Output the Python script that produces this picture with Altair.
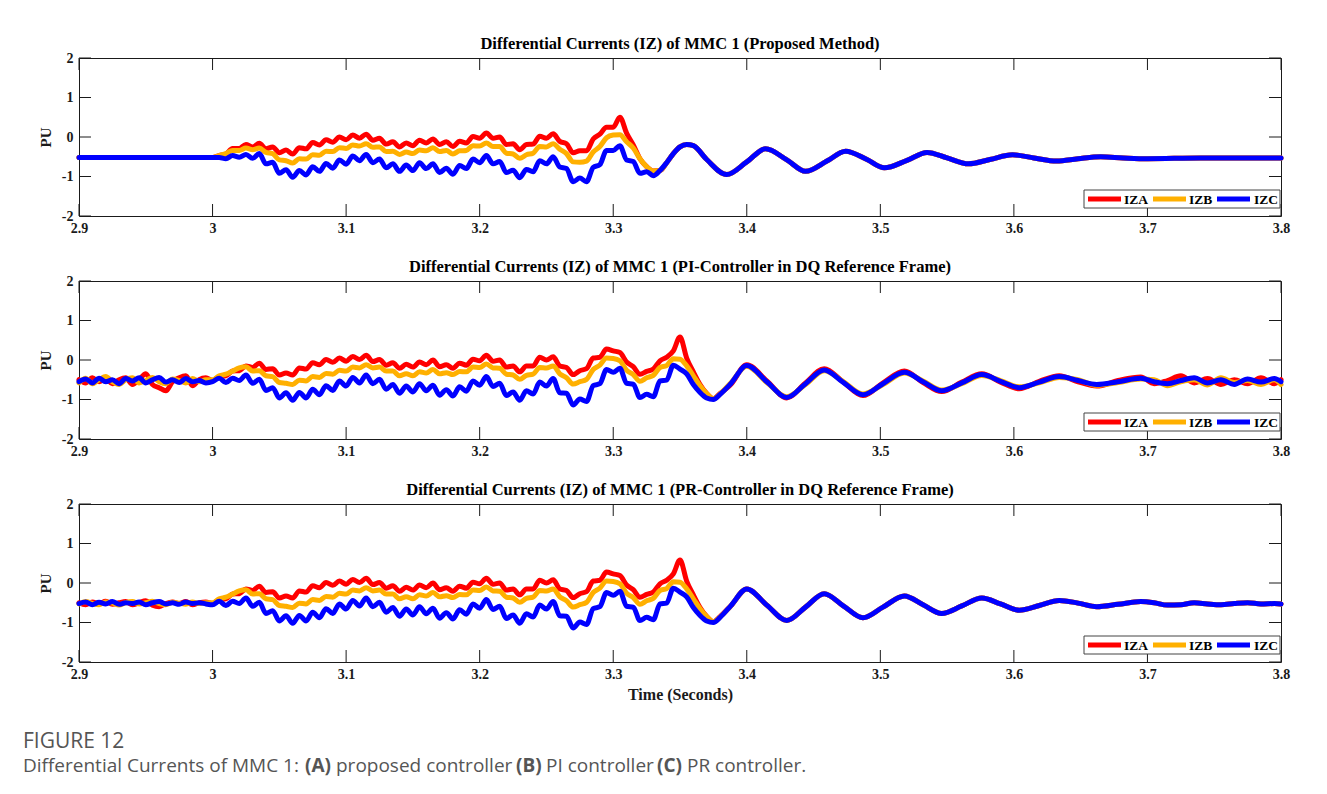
import altair as alt
import pandas as pd

SERIES = ["IZA", "IZB", "IZC"]
COLORS = ["#FF0000", "#FFB000", "#0000FF"]
X_TICKS = [2.9, 3.0, 3.1, 3.2, 3.3, 3.4, 3.5, 3.6, 3.7, 3.8]
Y_TICKS = [-2, -1, 0, 1, 2]
TITLES = [
    "Differential Currents (IZ) of MMC 1 (Proposed Method)",
    "Differential Currents (IZ) of MMC 1 (PI-Controller in DQ Reference Frame)",
    "Differential Currents (IZ) of MMC 1 (PR-Controller in DQ Reference Frame)",
]
X_TITLE = "Time (Seconds)"
Y_TITLE = "PU"

# ---------------- time grids ----------------
T_PRE1 = [2.9, 2.95]
T_PRE = [round(2.9 + 0.005 * k, 3) for k in range(20)]        # 2.900 .. 2.995
T_MAIN1 = [round(3.0 + 0.005 * k, 3) for k in range(73)]      # 3.000 .. 3.360
T_MAIN23 = [round(3.0 + 0.005 * k, 3) for k in range(77)]     # 3.000 .. 3.380
T_TAIL1 = [3.370, 3.385, 3.400, 3.414, 3.430, 3.444, 3.460, 3.474, 3.490, 3.503,
           3.520, 3.535, 3.550, 3.566, 3.582, 3.599, 3.615, 3.632, 3.648, 3.665,
           3.682, 3.700, 3.740, 3.800]
T_TAIL23 = [3.388, 3.400, 3.415, 3.430, 3.444, 3.458, 3.472, 3.487, 3.502, 3.518,
            3.532, 3.546, 3.561, 3.576, 3.590, 3.604, 3.619, 3.634, 3.648, 3.662,
            3.678, 3.695, 3.705, 3.715, 3.725, 3.735, 3.745, 3.755, 3.765, 3.775,
            3.785, 3.795, 3.800]

# ---------------- panel 1 (proposed) ----------------
P1_PRE = [-0.52, -0.52]
P1_A = [-0.52, -0.47, -0.43, -0.29, -0.29, -0.19, -0.25, -0.16, -0.30, -0.25,
        -0.40, -0.33, -0.43, -0.27, -0.30, -0.14, -0.20, -0.07, -0.13, 0.00,
        -0.07, 0.05, -0.03, 0.07, -0.08, -0.03, -0.18, -0.12, -0.25, -0.15,
        -0.22, -0.08, -0.15, -0.05, -0.19, -0.12, -0.24, -0.11, -0.15, 0.01,
        -0.03, 0.10, -0.03, 0.00, -0.19, -0.17, -0.32, -0.19, -0.18, 0.02,
        -0.03, 0.08, -0.11, -0.17, -0.40, -0.35, -0.35, -0.05, 0.07, 0.25,
        0.25, 0.50, 0.10, -0.20, -0.55, -0.75, -0.86, -0.85, -0.65, -0.42,
        -0.25, -0.19, -0.22]
P1_B = [-0.52, -0.47, -0.42, -0.34, -0.34, -0.28, -0.32, -0.28, -0.39, -0.42,
        -0.58, -0.60, -0.66, -0.55, -0.56, -0.45, -0.46, -0.36, -0.37, -0.27,
        -0.29, -0.20, -0.23, -0.17, -0.26, -0.25, -0.37, -0.36, -0.44, -0.38,
        -0.42, -0.33, -0.35, -0.27, -0.37, -0.34, -0.43, -0.35, -0.34, -0.22,
        -0.23, -0.15, -0.24, -0.24, -0.41, -0.43, -0.54, -0.45, -0.41, -0.24,
        -0.25, -0.17, -0.31, -0.42, -0.63, -0.64, -0.61, -0.38, -0.24, -0.02,
        0.05, 0.06, -0.12, -0.28, -0.55, -0.75, -0.86, -0.85, -0.65, -0.42,
        -0.25, -0.19, -0.22]
P1_C = [-0.52, -0.52, -0.55, -0.47, -0.51, -0.44, -0.54, -0.42, -0.68, -0.64,
        -0.92, -0.83, -1.02, -0.85, -0.96, -0.75, -0.87, -0.67, -0.79, -0.58,
        -0.69, -0.48, -0.60, -0.44, -0.65, -0.56, -0.78, -0.68, -0.87, -0.71,
        -0.85, -0.65, -0.80, -0.68, -0.90, -0.79, -0.94, -0.72, -0.80, -0.56,
        -0.65, -0.47, -0.68, -0.62, -0.90, -0.84, -1.03, -0.82, -0.88, -0.60,
        -0.68, -0.50, -0.76, -0.80, -1.13, -1.04, -1.13, -0.77, -0.70, -0.34,
        -0.34, -0.22, -0.58, -0.62, -0.92, -0.88, -0.98, -0.85, -0.65, -0.42,
        -0.25, -0.19, -0.22]
P1_TAIL = [-0.57, -0.95, -0.63, -0.30, -0.58, -0.87, -0.61, -0.36, -0.57, -0.78,
           -0.59, -0.39, -0.53, -0.68, -0.57, -0.45, -0.53, -0.61, -0.55, -0.50,
           -0.53, -0.55, -0.53, -0.53]

# ---------------- panel 2 (PI) ----------------
P2_PRE_A = [-0.50, -0.58, -0.45, -0.55, -0.48, -0.60, -0.50, -0.45, -0.62, -0.50,
            -0.35, -0.62, -0.70, -0.78, -0.55, -0.45, -0.40, -0.65, -0.50, -0.45]
P2_PRE_B = [-0.58, -0.46, -0.60, -0.50, -0.42, -0.55, -0.62, -0.50, -0.45, -0.58,
            -0.52, -0.44, -0.55, -0.60, -0.48, -0.52, -0.58, -0.47, -0.55, -0.50]
P2_PRE_C = [-0.55, -0.48, -0.58, -0.46, -0.55, -0.50, -0.60, -0.47, -0.53, -0.45,
            -0.58, -0.50, -0.44, -0.56, -0.50, -0.57, -0.47, -0.55, -0.52, -0.58]
P23_A = [-0.52, -0.42, -0.40, -0.28, -0.27, -0.15, -0.19, -0.08, -0.24, -0.22,
         -0.38, -0.33, -0.38, -0.20, -0.23, -0.07, -0.12, 0.01, -0.06, 0.05,
         -0.03, 0.09, 0.01, 0.12, -0.04, 0.01, -0.13, -0.07, -0.21, -0.11,
         -0.18, -0.05, -0.12, 0.00, -0.17, -0.12, -0.21, -0.08, -0.13, 0.02,
         -0.02, 0.12, -0.03, 0.00, -0.18, -0.15, -0.30, -0.15, -0.15, 0.07,
         0.00, 0.08, -0.15, -0.19, -0.37, -0.27, -0.22, 0.05, 0.07, 0.28,
         0.23, 0.19, -0.05, -0.17, -0.36, -0.29, -0.23, -0.02, 0.07, 0.23,
         0.58, 0.05, -0.30, -0.62, -0.85, -0.98, -0.85]
P23_B = [-0.50, -0.40, -0.36, -0.28, -0.20, -0.17, -0.28, -0.27, -0.40, -0.42,
         -0.57, -0.59, -0.62, -0.51, -0.53, -0.42, -0.44, -0.34, -0.36, -0.26,
         -0.28, -0.18, -0.20, -0.12, -0.20, -0.18, -0.28, -0.28, -0.40, -0.35,
         -0.40, -0.30, -0.33, -0.24, -0.35, -0.32, -0.37, -0.29, -0.30, -0.18,
         -0.19, -0.10, -0.20, -0.21, -0.36, -0.38, -0.49, -0.39, -0.36, -0.19,
         -0.20, -0.15, -0.35, -0.45, -0.61, -0.55, -0.49, -0.24, -0.13, 0.05,
         0.04, -0.02, -0.26, -0.37, -0.54, -0.45, -0.39, -0.19, -0.14, 0.03,
         0.02, -0.15, -0.40, -0.65, -0.85, -0.98, -0.86]
P23_C = [-0.55, -0.46, -0.57, -0.46, -0.52, -0.38, -0.59, -0.49, -0.77, -0.70,
         -0.96, -0.83, -1.02, -0.82, -0.96, -0.74, -0.88, -0.65, -0.77, -0.53,
         -0.66, -0.44, -0.58, -0.38, -0.60, -0.49, -0.74, -0.62, -0.84, -0.66,
         -0.81, -0.60, -0.78, -0.64, -0.89, -0.75, -0.91, -0.68, -0.79, -0.53,
         -0.64, -0.42, -0.67, -0.59, -0.90, -0.81, -1.02, -0.78, -0.86, -0.56,
         -0.66, -0.47, -0.83, -0.84, -1.14, -0.99, -1.05, -0.65, -0.60, -0.24,
         -0.31, -0.21, -0.59, -0.61, -0.95, -0.87, -0.93, -0.53, -0.51, -0.13,
         -0.23, -0.35, -0.62, -0.82, -0.96, -1.00, -0.87]
P2_TAIL_A = [-0.62, -0.12, -0.53, -0.96, -0.58, -0.22, -0.55, -0.90, -0.58, -0.28,
             -0.57, -0.80, -0.56, -0.35, -0.56, -0.73, -0.54, -0.40, -0.55, -0.66,
             -0.52, -0.43, -0.60, -0.52, -0.40, -0.58, -0.47, -0.62, -0.50, -0.60,
             -0.45, -0.60, -0.50]
P2_TAIL_B = [-0.58, -0.16, -0.57, -0.93, -0.62, -0.27, -0.54, -0.86, -0.62, -0.33,
             -0.53, -0.76, -0.60, -0.39, -0.52, -0.68, -0.58, -0.44, -0.50, -0.64,
             -0.57, -0.48, -0.50, -0.65, -0.55, -0.50, -0.63, -0.45, -0.57, -0.52,
             -0.62, -0.50, -0.62]
P2_TAIL_C = [-0.60, -0.14, -0.55, -0.95, -0.60, -0.25, -0.56, -0.88, -0.60, -0.31,
             -0.55, -0.78, -0.58, -0.37, -0.54, -0.70, -0.56, -0.42, -0.52, -0.62,
             -0.55, -0.46, -0.55, -0.60, -0.52, -0.45, -0.58, -0.50, -0.62, -0.48,
             -0.56, -0.47, -0.55]

# ---------------- panel 3 (PR) ----------------
P3_PRE_A = [-0.50, -0.55, -0.48, -0.52, -0.46, -0.54, -0.50, -0.47, -0.55, -0.50,
            -0.45, -0.56, -0.60, -0.52, -0.48, -0.52, -0.47, -0.55, -0.50, -0.48]
P3_PRE_B = [-0.53, -0.47, -0.52, -0.55, -0.48, -0.51, -0.56, -0.50, -0.47, -0.53,
            -0.50, -0.46, -0.52, -0.55, -0.49, -0.51, -0.54, -0.48, -0.52, -0.50]
P3_PRE_C = [-0.52, -0.48, -0.55, -0.49, -0.53, -0.47, -0.54, -0.50, -0.52, -0.48,
            -0.55, -0.50, -0.47, -0.53, -0.50, -0.54, -0.48, -0.52, -0.50, -0.53]
P3_TAIL = [-0.58, -0.15, -0.56, -0.95, -0.61, -0.27, -0.57, -0.88, -0.61, -0.33,
           -0.55, -0.77, -0.58, -0.38, -0.53, -0.69, -0.57, -0.44, -0.51, -0.60,
           -0.54, -0.47, -0.50, -0.56, -0.55, -0.50, -0.53, -0.55, -0.52, -0.50,
           -0.53, -0.52, -0.53]

CAPTION_HEAD = "FIGURE 12"
CAPTION_PARTS = [
    ("Differential Currents of MMC 1:", "normal"),
    ("(A)", "bold"), ("proposed controller", "normal"),
    ("(B)", "bold"), ("PI controller", "normal"),
    ("(C)", "bold"), ("PR controller.", "normal"),
]
CAPTION_PX = [-56, 226, 257, 437, 467, 578, 608]

# legend layout inside each plot area (pixels from plot's top-left)
LEG_BOX = (1005, 1201, 132, 150)
LEG_LINE_X = [(1009, 1042), (1074, 1107), (1138, 1171)]
LEG_TEXT_X = [1045, 1110, 1175]


def build(spec):
    rows = []
    for s in SERIES:
        for ts, vs in spec[s]:
            for t, v in zip(ts, vs):
                rows.append({"t": t, "v": v, "s": s})
    return pd.DataFrame(rows)


df1 = build({
    "IZA": [(T_PRE1, P1_PRE), (T_MAIN1, P1_A), (T_TAIL1, P1_TAIL)],
    "IZB": [(T_PRE1, P1_PRE), (T_MAIN1, P1_B), (T_TAIL1, P1_TAIL)],
    "IZC": [(T_PRE1, P1_PRE), (T_MAIN1, P1_C), (T_TAIL1, P1_TAIL)],
})
df2 = build({
    "IZA": [(T_PRE, P2_PRE_A), (T_MAIN23, P23_A), (T_TAIL23, P2_TAIL_A)],
    "IZB": [(T_PRE, P2_PRE_B), (T_MAIN23, P23_B), (T_TAIL23, P2_TAIL_B)],
    "IZC": [(T_PRE, P2_PRE_C), (T_MAIN23, P23_C), (T_TAIL23, P2_TAIL_C)],
})
df3 = build({
    "IZA": [(T_PRE, P3_PRE_A), (T_MAIN23, P23_A), (T_TAIL23, P3_TAIL)],
    "IZB": [(T_PRE, P3_PRE_B), (T_MAIN23, P23_B), (T_TAIL23, P3_TAIL)],
    "IZC": [(T_PRE, P3_PRE_C), (T_MAIN23, P23_C), (T_TAIL23, P3_TAIL)],
})

W, H = 1202, 158
TL = 12
SERIF = "Liberation Serif"
INK = "#1a1a1a"
xsc = alt.Scale(domain=[2.9, 3.8], nice=False, zero=False)
ysc = alt.Scale(domain=[-2, 2], nice=False, zero=False)
cscale = alt.Scale(domain=SERIES, range=COLORS)
xt_df = pd.DataFrame({"t": X_TICKS})
yt_df = pd.DataFrame({"v": Y_TICKS})


def panel(df, title, show_xtitle):
    xaxis = alt.Axis(values=X_TICKS, labelExpr="'' + datum.value", ticks=False,
                     grid=False, domain=False, labelFont=SERIF, labelFontSize=14,
                     labelFontWeight="bold", labelColor=INK, labelPadding=5,
                     labelFlush=False, labelOverlap=False,
                     titleFont=SERIF, titleFontSize=16, titleFontWeight="bold",
                     titleColor=INK, titlePadding=5)
    yaxis = alt.Axis(values=Y_TICKS, labelExpr="'' + datum.value", ticks=False,
                     grid=False, domain=False, labelFont=SERIF, labelFontSize=14,
                     labelFontWeight="bold", labelColor=INK, labelPadding=6,
                     labelFlush=False, labelOverlap=False,
                     titleFont=SERIF, titleFontSize=15, titleFontWeight="bold",
                     titleColor=INK, titlePadding=8)
    xt = X_TITLE if show_xtitle else None

    def X():
        return alt.X("t:Q", scale=xsc, axis=xaxis, title=xt)

    def Y():
        return alt.Y("v:Q", scale=ysc, axis=yaxis, title=Y_TITLE)

    lines = alt.Chart(df).mark_line(
        strokeWidth=5, interpolate="monotone", strokeJoin="round", strokeCap="round"
    ).encode(
        x=X(), y=Y(),
        color=alt.Color("s:N", scale=cscale, legend=None),
        detail="s:N",
    )
    tb = alt.Chart(xt_df).mark_rule(color=INK, strokeWidth=1).encode(
        x=X(), y=alt.value(H - TL), y2=alt.value(H))
    tt = alt.Chart(xt_df).mark_rule(color=INK, strokeWidth=1).encode(
        x=X(), y=alt.value(0), y2=alt.value(TL))
    tl = alt.Chart(yt_df).mark_rule(color=INK, strokeWidth=1).encode(
        y=Y(), x=alt.value(0), x2=alt.value(TL))
    tr = alt.Chart(yt_df).mark_rule(color=INK, strokeWidth=1).encode(
        y=Y(), x=alt.value(W - TL), x2=alt.value(W))

    layers = [lines, tb, tt, tl, tr]
    one = pd.DataFrame({"s": ["legend"]})
    layers.append(alt.Chart(one).mark_rect(
        fill="white", stroke="#444444", strokeWidth=1
    ).encode(x=alt.value(LEG_BOX[0]), x2=alt.value(LEG_BOX[1]),
             y=alt.value(LEG_BOX[2]), y2=alt.value(LEG_BOX[3])))
    ymid = (LEG_BOX[2] + LEG_BOX[3]) / 2
    for i, s in enumerate(SERIES):
        sd = pd.DataFrame({"s": [s]})
        layers.append(alt.Chart(sd).mark_rule(strokeWidth=5, color=COLORS[i]).encode(
            x=alt.value(LEG_LINE_X[i][0]), x2=alt.value(LEG_LINE_X[i][1]),
            y=alt.value(ymid)))
        layers.append(alt.Chart(sd).mark_text(
            align="left", baseline="middle", font=SERIF, fontSize=13.5,
            fontWeight="bold", color="black"
        ).encode(x=alt.value(LEG_TEXT_X[i]), y=alt.value(ymid + 0.5), text="s:N"))

    return alt.layer(*layers).properties(
        width=W, height=H,
        title=alt.TitleParams(title, font=SERIF, fontSize=16.5, fontWeight="bold",
                              color="black", anchor="middle", offset=-1),
        view=alt.ViewBackground(stroke=INK, strokeWidth=1),
    )


cap_df = pd.DataFrame({
    "txt": [p[0] for p in CAPTION_PARTS],
    "w": [p[1] for p in CAPTION_PARTS],
    "px": CAPTION_PX,
})
head_df = pd.DataFrame({"txt": [CAPTION_HEAD], "px": [-56]})
CAP_FONT = "Open Sans"
CAP_Y1, CAP_Y2 = 16, 40
cap_head = alt.Chart(head_df).mark_text(
    align="left", baseline="middle", font=CAP_FONT, fontSize=21, color="#555555"
).encode(x=alt.X("px:Q", scale=None), y=alt.value(CAP_Y1), text="txt:N")
cap_norm = alt.Chart(cap_df).transform_filter(alt.datum.w == "normal").mark_text(
    align="left", baseline="middle", font=CAP_FONT, fontSize=19, color="#555555"
).encode(x=alt.X("px:Q", scale=None), y=alt.value(CAP_Y2), text="txt:N")
cap_bold = alt.Chart(cap_df).transform_filter(alt.datum.w == "bold").mark_text(
    align="left", baseline="middle", font=CAP_FONT, fontSize=19, fontWeight="bold",
    color="#555555"
).encode(x=alt.X("px:Q", scale=None), y=alt.value(CAP_Y2), text="txt:N")
caption = alt.layer(cap_head, cap_norm, cap_bold).properties(
    width=W, height=56, view=alt.ViewBackground(stroke="transparent"))

chart = alt.vconcat(
    panel(df1, TITLES[0], False),
    panel(df2, TITLES[1], False),
    panel(df3, TITLES[2], True),
    caption,
    spacing=22,
).properties(
    padding={"left": 22, "top": 35, "right": 10, "bottom": 6},
    background="white",
).configure_view(stroke="transparent")

chart.save("out.html", embed_options={"renderer": "svg", "actions": False})
